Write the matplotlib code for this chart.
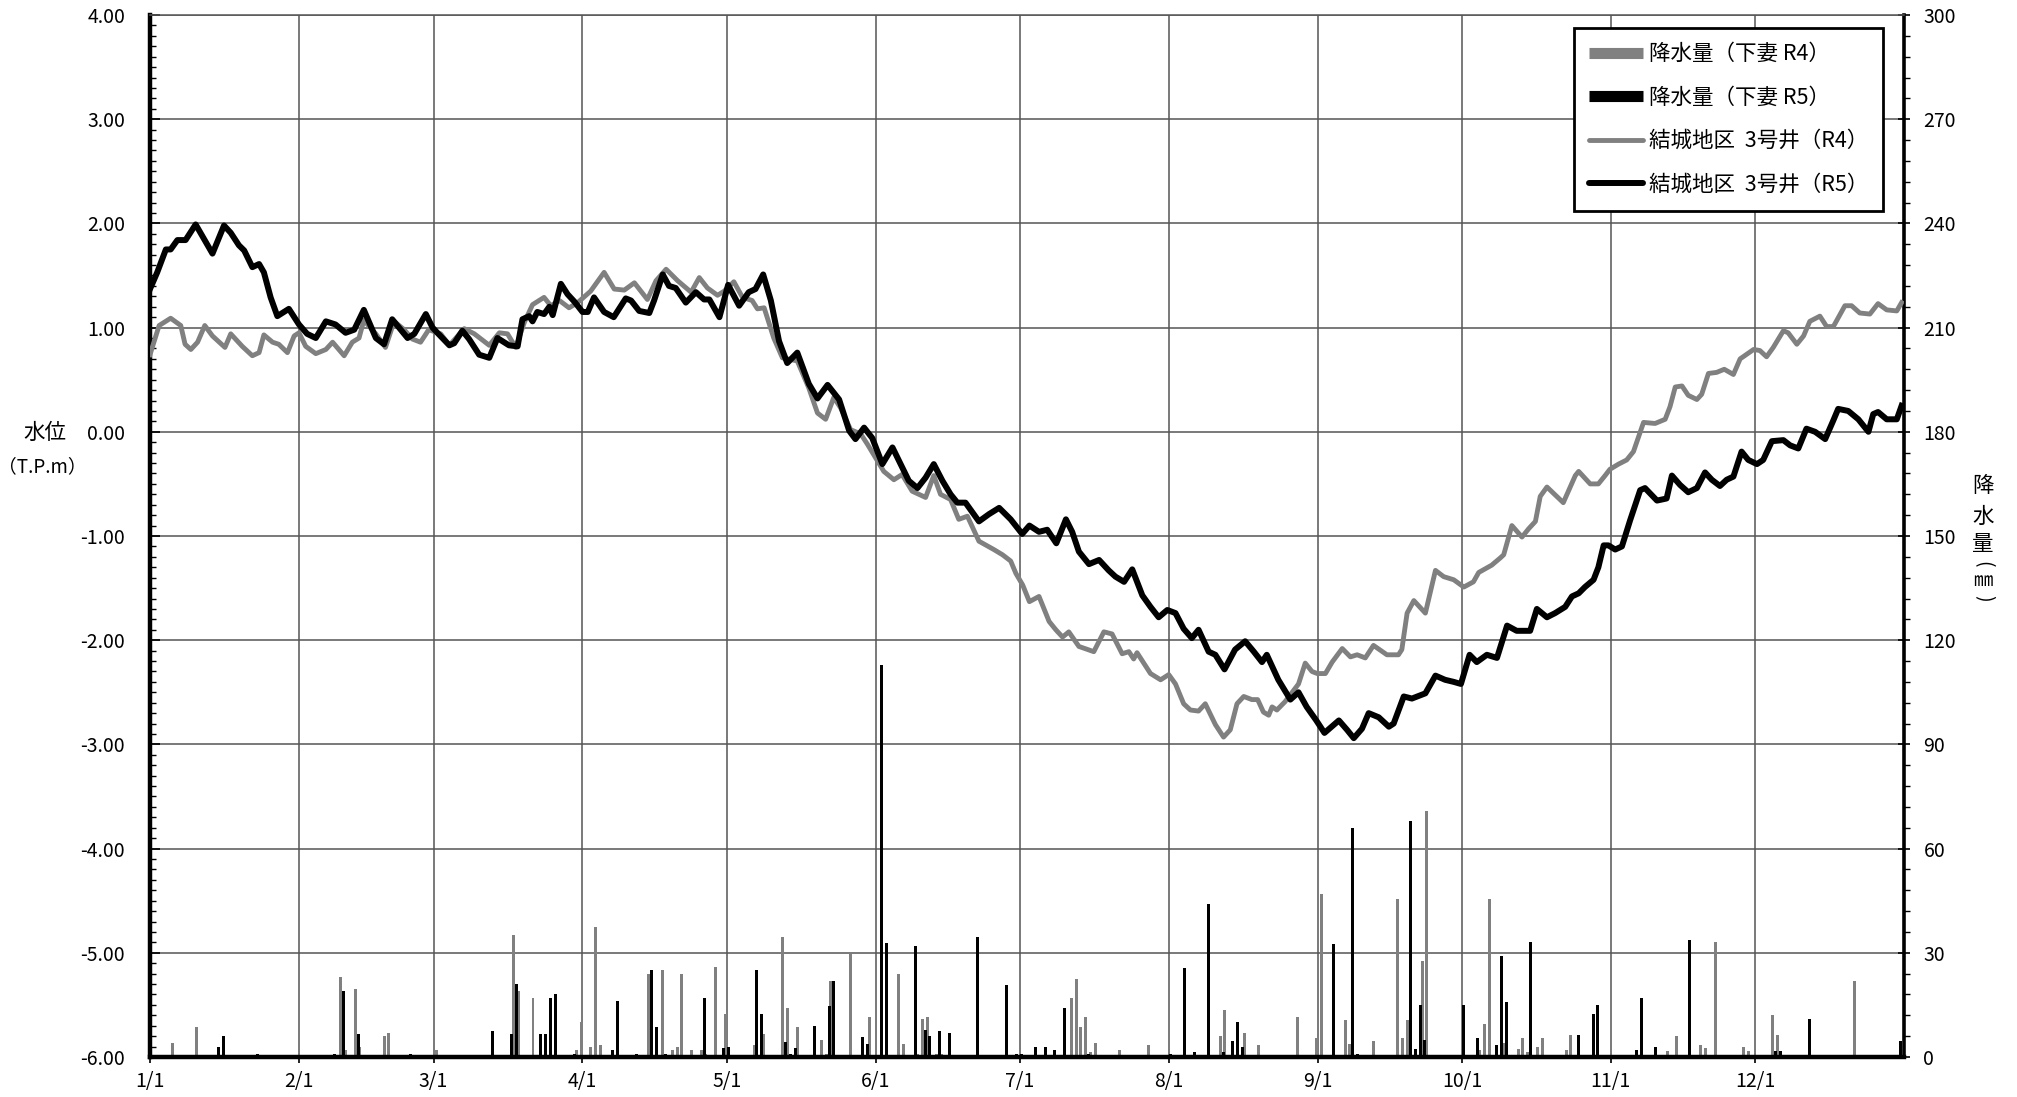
import matplotlib
matplotlib.use('Agg')
import matplotlib.pyplot as plt
from matplotlib.ticker import MultipleLocator, FuncFormatter
from matplotlib.lines import Line2D
import numpy as np

plt.rcParams['font.family'] = ['Noto Sans CJK JP', 'DejaVu Sans']

# ---------------- data ----------------
month_days = [0, 31, 59, 90, 120, 151, 181, 212, 243, 273, 304, 334]
month_labels = ['1/1', '2/1', '3/1', '4/1', '5/1', '6/1', '7/1', '8/1', '9/1', '10/1', '11/1', '12/1']

level_ticks = [-6, -5, -4, -3, -2, -1, 0, 1, 2, 3, 4]
rain_ticks = [0, 30, 60, 90, 120, 150, 180, 210, 240, 270, 300]

# 結城地区 3号井 (R5) water level, day of year -> T.P.m
r5_day = [0, 1.5, 3.3, 4.3, 5.7, 7.4, 9.5, 13, 15.4, 16.8, 18.5, 19.6, 21.3, 22.7, 23.7, 25.1, 26.5, 28.9,
          31, 32.7, 34.5, 36.6, 38.6, 40.7, 42.5, 44.5, 47, 48.7, 50.4, 53.6, 55, 57.4, 58.8, 59.8, 62.3,
          63.3, 65, 66.4, 68.5, 70.6, 72.3, 74.7, 76.5, 77.5, 78.9, 79.6, 80.6, 82, 83.1, 83.8, 85.5, 86.9,
          88.3, 90, 91.1, 92.4, 94.5, 96.5, 99, 100.1, 101.8, 103.9, 104.9, 106.7, 108, 109.4, 111.5, 113.6,
          115.3, 116.4, 118.5, 120.3, 122.6, 124.6, 126, 127.6, 129.2, 130.9, 132.6, 134.7, 137.1, 138.9,
          141, 143.4, 145.5, 146.8, 148.6, 150.3, 152.4, 154.5, 156.2, 157.9, 159.7, 161.4, 163.1, 164.9,
          166.6, 168, 169.7, 172.5, 174.6, 176.7, 179.1, 181.5, 183, 185, 186.7, 188.6, 190.6, 191.9, 193.3,
          195.4, 197.5, 199.5, 200.9, 202.7, 204.4, 206.5, 208.2, 209.9, 211.7, 213.4, 215.1, 216.8, 218.2,
          220.3, 221.7, 223.6, 225.8, 227.9, 229.7, 231.4, 232.4, 234.8, 237.3, 239, 240.7, 242.7, 244.4,
          247.4, 249.1, 250.5, 252.2, 253.6, 255.7, 257.8, 258.8, 260.9, 262.6, 265.4, 267.5, 269.5, 271.3,
          272.8, 274.6, 276.1, 278.2, 280.3, 282.4, 284.4, 287.2, 288.6, 290.7, 292.4, 294.5, 295.9, 297.3,
          298.6, 300.4, 301.4, 302.5, 303.5, 304.9, 306.3, 308, 310.1, 311.1, 313.6, 315.6, 316.7, 318.4,
          320.1, 321.9, 323.6, 325, 326.7, 328.1, 329.5, 331.2, 332.6, 334.4, 335.7, 337.5, 339.9, 341.3,
          343, 344.7, 346.5, 348.6, 350.3, 351.3, 353.4, 355.5, 357.6, 358.6, 359.6, 361.4, 363.5, 364.5]
r5_level = [1.37, 1.53, 1.75, 1.75, 1.84, 1.84, 1.99, 1.71, 1.98, 1.91, 1.79, 1.74, 1.58, 1.61, 1.53, 1.29, 1.11, 1.18,
            1.03, 0.94, 0.90, 1.06, 1.03, 0.95, 0.98, 1.17, 0.90, 0.84, 1.08, 0.90, 0.94, 1.13, 1.00, 0.95, 0.83,
            0.85, 0.97, 0.89, 0.74, 0.71, 0.90, 0.83, 0.82, 1.08, 1.11, 1.06, 1.15, 1.13, 1.20, 1.12, 1.42, 1.32,
            1.25, 1.15, 1.15, 1.29, 1.15, 1.10, 1.28, 1.26, 1.16, 1.14, 1.26, 1.51, 1.40, 1.38, 1.24, 1.34,
            1.27, 1.27, 1.10, 1.41, 1.21, 1.34, 1.37, 1.51, 1.26, 0.87, 0.66, 0.76, 0.46, 0.32,
            0.45, 0.31, 0.01, -0.07, 0.04, -0.06, -0.31, -0.15, -0.31, -0.47, -0.54, -0.44, -0.31, -0.47,
            -0.60, -0.68, -0.68, -0.86, -0.79, -0.73, -0.84, -0.98, -0.90, -0.96, -0.94, -1.07, -0.84, -0.96, -1.15,
            -1.27, -1.23, -1.33, -1.39, -1.44, -1.32, -1.57, -1.68, -1.78, -1.71, -1.74, -1.89, -1.98, -1.90,
            -2.11, -2.14, -2.28, -2.09, -2.01, -2.11, -2.21, -2.14, -2.38, -2.57, -2.50, -2.64, -2.77, -2.89,
            -2.77, -2.86, -2.94, -2.85, -2.70, -2.74, -2.83, -2.80, -2.54, -2.56, -2.51, -2.34, -2.38, -2.40,
            -2.42, -2.14, -2.21, -2.14, -2.17, -1.86, -1.91, -1.91, -1.70, -1.78, -1.74, -1.68, -1.58, -1.55,
            -1.49, -1.42, -1.30, -1.09, -1.09, -1.13, -1.10, -0.85, -0.56, -0.54, -0.66, -0.64, -0.42, -0.51,
            -0.58, -0.54, -0.39, -0.46, -0.52, -0.46, -0.43, -0.19, -0.27, -0.31, -0.27, -0.09, -0.08, -0.13,
            -0.16, 0.03, 0.00, -0.07, 0.11, 0.22, 0.20, 0.12, 0.00, 0.17, 0.19, 0.12, 0.12, 0.25]

# 結城地区 3号井 (R4) water level
r4_day = [0, 1.9, 4.3, 6.4, 7.3, 8.5, 9.9, 11.4, 13, 15.6, 16.8, 19.2, 21.3, 22.7, 23.7, 25.5, 26.8, 28.6, 30,
          31, 32.4, 34.5, 36.6, 38, 40.4, 42.1, 43.5, 44.5, 47, 49, 50.8, 52.9, 54.6, 56.3, 58, 60.5, 62.3,
          65.4, 67.5, 70.6, 72.7, 74.4, 76.1, 77.9, 79.6, 82, 83.4, 85.2, 87.2, 89, 91.7, 94.5, 96.6, 98.7,
          100.8, 103.5, 105.3, 107.4, 109.8, 112.6, 114.3, 116, 118.1, 119.5, 121.5, 123.3, 125.3, 126.4,
          127.8, 129.8, 131.6, 134.7, 137.1, 138.9, 140.6, 142.3, 143.7, 145.8, 147.9, 149.3, 151, 152.7,
          154.8, 156.5, 158.6, 161.4, 163.1, 164.5, 166.6, 168.3, 170.1, 172.5, 175.6, 177.4, 179.1, 180.2,
          181.6, 183, 185, 187.1, 188.5, 189.9, 191.2, 193.3, 196.4, 198.5, 200.2, 202.3, 203.7, 204.7,
          205.4, 208.2, 210.3, 212, 213.4, 215.1, 216.5, 218.2, 219.6, 221.7, 223.4, 224.8, 226.2, 227.6,
          229.3, 230.5, 231.7, 232.8, 233.5, 234.5, 236.2, 239, 240.4, 241.8, 242.9, 244.6, 246, 248.1,
          249.8, 251.2, 252.9, 254.6, 257.4, 259.8, 260.5, 261.6, 263, 265.4, 267.5, 269.2, 271.3, 273.4,
          275.4, 276.5, 279.2, 281, 281.7, 283.4, 285.5, 286.9, 288.3, 289.3, 290.7, 294.1, 296.6, 297.3,
          299.7, 301.4, 302.8, 303.8, 305.6, 307.3, 308.7, 310.8, 313.2, 315.3, 316.3, 317.4, 318.8, 320.1,
          321.9, 322.9, 324.3, 326, 327.6, 329.5, 330.9, 333.7, 335, 336.4, 337.8, 339.9, 340.9, 342.7,
          344.1, 345.4, 347.5, 348.9, 350.3, 352.7, 354.1, 355.8, 357.9, 359.6, 361.4, 363.5, 364.5]
r4_level = [0.74, 1.02, 1.09, 1.02, 0.84, 0.79, 0.86, 1.02, 0.92, 0.81, 0.94, 0.82, 0.73, 0.76, 0.93, 0.86, 0.84, 0.76, 0.92,
            0.95, 0.82, 0.75, 0.79, 0.86, 0.73, 0.86, 0.90, 1.07, 0.94, 0.81, 1.06, 0.98, 0.89, 0.86, 0.98, 0.94, 0.83,
            0.99, 0.94, 0.83, 0.95, 0.94, 0.81, 1.05, 1.22, 1.29, 1.21, 1.26, 1.19, 1.24, 1.35, 1.53, 1.37, 1.36,
            1.43, 1.27, 1.45, 1.56, 1.45, 1.34, 1.48, 1.38, 1.31, 1.35, 1.44, 1.29, 1.26, 1.18,
            1.19, 0.90, 0.71, 0.68, 0.42, 0.18, 0.12, 0.33, 0.23, 0.02, -0.02, -0.12, -0.25, -0.38,
            -0.46, -0.41, -0.57, -0.63, -0.42, -0.60, -0.65, -0.84, -0.81, -1.05, -1.13, -1.18, -1.24, -1.36,
            -1.47, -1.63, -1.58, -1.82, -1.90, -1.97, -1.92, -2.06, -2.11, -1.92, -1.94, -2.13, -2.11, -2.18,
            -2.12, -2.32, -2.38, -2.33, -2.42, -2.61, -2.67, -2.68, -2.61, -2.81, -2.93, -2.86, -2.61, -2.54,
            -2.57, -2.57, -2.69, -2.72, -2.64, -2.67, -2.59, -2.42, -2.22, -2.30, -2.32, -2.32, -2.21, -2.08,
            -2.16, -2.14, -2.17, -2.05, -2.14, -2.14, -2.09, -1.74, -1.62, -1.74, -1.33, -1.39, -1.42, -1.49,
            -1.44, -1.35, -1.28, -1.21, -1.18, -0.90, -1.01, -0.93, -0.86, -0.62, -0.53, -0.68, -0.42, -0.38,
            -0.50, -0.50, -0.42, -0.36, -0.31, -0.27, -0.19, 0.09, 0.08, 0.12, 0.24, 0.43, 0.44, 0.35,
            0.31, 0.36, 0.56, 0.57, 0.60, 0.55, 0.70, 0.79, 0.78, 0.72, 0.81, 0.97, 0.95, 0.84,
            0.92, 1.06, 1.11, 1.01, 1.01, 1.21, 1.21, 1.14, 1.13, 1.23, 1.17, 1.16, 1.24]

# 降水量 (下妻 R4), day of year -> mm
rain_r4_day = [5, 10, 40, 41, 43, 44, 49, 50, 60, 64, 76, 77, 80, 84, 89, 90, 92, 93, 94, 103, 104, 107, 109,
               110, 111, 113, 115, 116, 118, 120, 126, 128, 129, 132, 133, 135, 140, 141, 142, 146, 150, 151,
               156, 157, 160, 161, 162, 164, 165, 192, 193, 194, 195, 196, 197, 202, 208, 214, 223, 224, 228,
               231, 239, 243, 244, 249, 250, 254, 255, 260, 261, 262, 265, 266, 277, 278, 279, 282, 285, 286,
               287, 289, 290, 291, 295, 296, 298, 316, 318, 323, 324, 326, 327, 329, 332, 333, 338, 339, 346,
               347, 355]
rain_r4_mm = [4, 8.5, 23, 2, 19.5, 3, 6, 7, 2, 0.5, 35, 19, 17, 0.5, 2, 10, 3, 37.5, 3.5, 0.5, 24, 25, 2,
              3, 24, 2, 2, 1, 26, 12.5, 3.5, 6.5, 0.5, 34.6, 14, 8.5, 5, 1, 22, 29.7, 11.4, 0.5,
              24, 3.8, 1, 11, 11.5, 1, 1, 17, 22.5, 8.5, 11.5, 1.5, 4, 2, 3.4, 0.5, 6, 13.5, 7,
              3.4, 11.5, 5.6, 47, 10.6, 3.8, 0.5, 4.6, 45.6, 5.6, 10.6, 27.5, 70.7, 2, 9.6, 45.6, 4, 2.4, 5.6,
              1.5, 3, 5.6, 0.5, 2, 6.4, 0.5, 1.6, 6, 3.5, 2.6, 33, 0.5, 0.5, 3, 1.6, 12, 6.4, 0.5,
              0.5, 22]

# 降水量 (下妻 R5)
rain_r5_day = [14, 15, 22, 38, 40, 43, 54, 71, 75, 76, 81, 82, 83, 84, 88, 96, 97, 101, 104, 105, 107, 115,
               119, 120, 126, 127, 132, 133, 134, 138, 141, 142, 148, 149, 152, 153, 159, 161, 162, 164, 166,
               172, 178, 180, 181, 184, 186, 188, 190, 191, 195, 212, 215, 217, 220, 223, 225, 226, 227, 246,
               250, 251, 262, 263, 264, 265, 273, 276, 280, 281, 282, 287, 297, 300, 301, 309, 310, 313, 320,
               338, 339, 345, 349, 364]
rain_r5_mm = [3, 6, 1, 1, 19, 6.5, 1, 7.5, 6.5, 21, 6.5, 6.5, 17, 18, 1, 2, 16, 1, 25, 8.5, 1, 17,
              2.5, 3, 25, 12.5, 4.4, 1, 2.6, 9, 14.8, 22, 5.7, 3.6, 113, 32.7, 32, 7.9, 6, 7.5, 7,
              34.6, 20.6, 1, 1, 3, 3, 2, 14, 0.5, 1, 1, 25.5, 1.5, 44, 1.5, 4.5, 10, 3, 32.5,
              66, 1, 68, 2.4, 15, 5, 15, 5.5, 3.4, 29, 15.7, 33, 6.4, 12.5, 15, 2, 17, 3, 33.7,
              1.6, 1.6, 11, 0.5, 4.6]

legend_labels = ['降水量（下妻 R4）', '降水量（下妻 R5）', '結城地区  3号井（R4）', '結城地区  3号井（R5）']

GRAY = '#808080'
GRID = '#555555'
W, H = 2017, 1097

# ---------------- figure ----------------
fig = plt.figure(figsize=(W / 100, H / 100), dpi=100)
ax = fig.add_axes([150 / W, 1 - 1057 / H, 1754 / W, 1042 / H])
ax2 = ax.twinx()
ax.set_zorder(2)
ax2.set_zorder(1)
ax.patch.set_visible(False)

# rain axis (bottom layer): grid + bars
ax2.set_ylim(0, 300)
ax2.set_yticks(rain_ticks)
ax2.yaxis.set_minor_locator(MultipleLocator(6))
ax2.set_axisbelow(True)
ax2.grid(True, axis='y', color=GRID, lw=1.1)
ax2.vlines(month_days[1:], 0, 300, color=GRID, lw=1.1, zorder=0.8)
ax2.bar(np.array(rain_r4_day) - 0.3, rain_r4_mm, width=0.62, color=GRAY, linewidth=0, zorder=1.5)
ax2.bar(np.array(rain_r5_day) + 0.3, rain_r5_mm, width=0.62, color='black', linewidth=0, zorder=1.6)
ax2.tick_params(axis='y', which='major', direction='inout', length=8, width=1.2, labelsize=14, pad=10)
ax2.tick_params(axis='y', which='minor', direction='out', length=4, width=1.0)

# level axis (top layer): lines
ax.set_xlim(0, 365)
ax.set_ylim(-6, 4)
ax.plot(r4_day, r4_level, color=GRAY, lw=3.5, solid_joinstyle='round', zorder=3)
ax.plot(r5_day, r5_level, color='black', lw=4.3, solid_joinstyle='round', zorder=4)

ax.set_yticks(level_ticks)
ax.yaxis.set_major_formatter(FuncFormatter(lambda v, p: f'{v:.2f}'))
ax.yaxis.set_minor_locator(MultipleLocator(0.1))
ax.tick_params(axis='y', which='major', direction='in', length=7, width=1.2, labelsize=14, pad=18)
ax.tick_params(axis='y', which='minor', direction='in', length=4, width=1.0)
ax.set_xticks(month_days)
ax.set_xticklabels(month_labels)
ax.tick_params(axis='x', which='major', direction='out', length=4, width=1.2, labelsize=14, pad=6)

for a in (ax, ax2):
    for s in a.spines.values():
        s.set_visible(False)
ax.spines['left'].set_visible(True)
ax.spines['left'].set_linewidth(3.2)
ax.spines['bottom'].set_visible(True)
ax.spines['bottom'].set_linewidth(3.2)
ax.spines['top'].set_visible(True)
ax.spines['top'].set_linewidth(1.1)
ax.spines['top'].set_color(GRID)
ax2.spines['right'].set_visible(True)
ax2.spines['right'].set_linewidth(2.6)

# axis titles
fig.text(45 / W, 1 - 433 / H, '水位', ha='center', va='center', fontsize=15.5)
fig.text(42 / W, 1 - 467 / H, '（T.P.m）', ha='center', va='center', fontsize=13.5)
rx = 1983 / W
fig.text(rx, 1 - 486 / H, '降', ha='center', va='center', fontsize=15.5)
fig.text(rx, 1 - 517 / H, '水', ha='center', va='center', fontsize=15.5)
fig.text(rx, 1 - 544 / H, '量', ha='center', va='center', fontsize=15.5)
fig.text(rx, 1 - 564 / H, '(', ha='center', va='center', fontsize=14, rotation=-90, rotation_mode='anchor')
fig.text(rx, 1 - 581 / H, '㎜', ha='center', va='center', fontsize=14)
fig.text(rx, 1 - 598 / H, ')', ha='center', va='center', fontsize=14, rotation=-90, rotation_mode='anchor')

# legend
handles = [Line2D([], [], color=GRAY, lw=8, solid_capstyle='butt'),
           Line2D([], [], color='black', lw=8, solid_capstyle='butt'),
           Line2D([], [], color=GRAY, lw=3.5, solid_capstyle='round'),
           Line2D([], [], color='black', lw=4.3, solid_capstyle='round')]
leg = ax.legend(handles, legend_labels, loc='upper right',
                bbox_to_anchor=(1883 / W, 1 - 28 / H), bbox_transform=fig.transFigure,
                fontsize=15.5, frameon=True, fancybox=False, edgecolor='black', framealpha=1,
                handlelength=2.5, handletextpad=0.25, labelspacing=1.0, borderpad=0.7,
                borderaxespad=0)
leg.get_frame().set_linewidth(2)
leg.set_zorder(10)

fig.savefig('out.png', dpi=100, facecolor='white')
